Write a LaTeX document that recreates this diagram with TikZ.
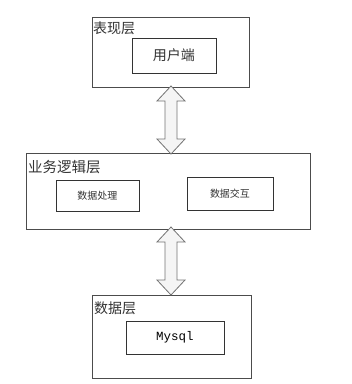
\documentclass[tikz,border=0pt]{standalone}
\usepackage{fontspec}
\newfontfamily\cjk{Noto Sans CJK SC}
\newfontfamily\monof{Liberation Mono}
\begin{document}
\begin{tikzpicture}[x=1pt,y=-1pt,
  layer/.style={draw=black!70, line width=0.8pt, fill=white},
  inner/.style={draw=black!80, line width=0.8pt, fill=white},
  lbl/.style={anchor=west, inner sep=0pt, font=\cjk\fontsize{14}{14}\selectfont, text=black!80},
  blockarrow/.style={draw=black!55, line width=0.8pt, fill=black!4, line join=miter}]
\useasboundingbox (0,0) rectangle (352,384);
% top layer
\draw[layer] (92,17) rectangle (249,87);
\node[lbl] (l1) at (93,28.5) {表现层};
\draw[inner] (132,38) rectangle (216,73);
\node[font=\cjk\fontsize{14}{14}\selectfont, text=black!80] (u) at (174,55.5) {用户端};
% middle layer
\draw[layer] (26,153) rectangle (310,229);
\node[lbl, font=\cjk\fontsize{14.5}{14.5}\selectfont] (l2) at (28,167) {业务逻辑层};
\draw[inner] (56,180) rectangle (139,211);
\node[font=\cjk\fontsize{10}{10}\selectfont, text=black!80] (p1) at (97.5,195.5) {数据处理};
\draw[inner] (187,177) rectangle (273,210);
\node[font=\cjk\fontsize{10}{10}\selectfont, text=black!80] (p2) at (230,193.5) {数据交互};
% bottom layer
\draw[layer] (92,295) rectangle (251,378);
\node[lbl] (l3) at (94,308) {数据层};
\draw[inner] (126,321) rectangle (224,354);
\node[font=\monof\fontsize{12.5}{12.5}\selectfont, text=black] (m) at (175,337.5) {Mysql};
% arrows
\draw[blockarrow] (171,86) -- (185,101) -- (177,101) -- (177,139) -- (185,139) -- (171,154)
  -- (157,139) -- (165,139) -- (165,101) -- (157,101) -- cycle;
\draw[blockarrow] (171,227) -- (185,242) -- (177,242) -- (177,280) -- (185,280) -- (171,295)
  -- (157,280) -- (165,280) -- (165,242) -- (157,242) -- cycle;
\end{tikzpicture}
\end{document}
